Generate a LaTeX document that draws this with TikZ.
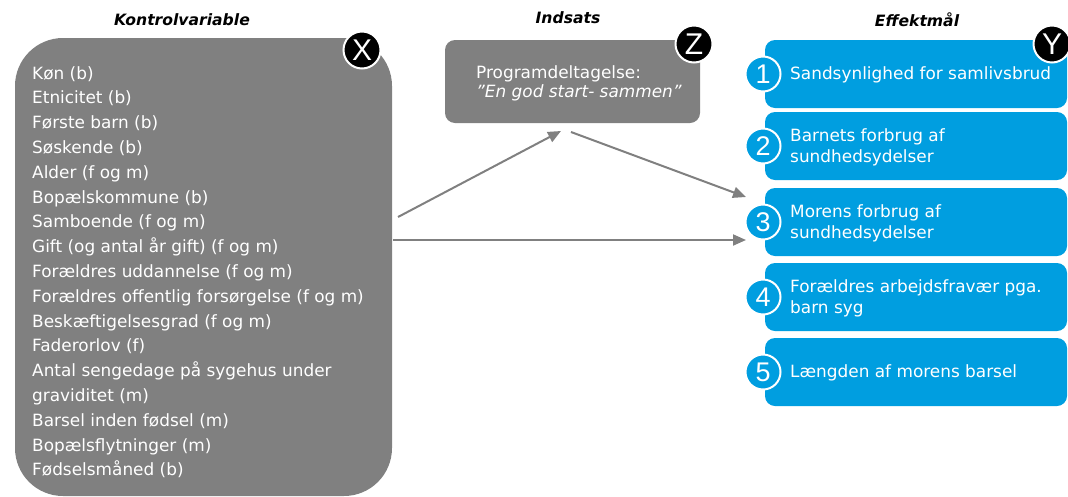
\documentclass[tikz,border=0pt]{standalone}
\usepackage{fontspec}
\setmainfont{DejaVu Sans}
\newfontfamily\markfont{Liberation Sans}
\usetikzlibrary{arrows.meta,calc}
\definecolor{boxgray}{RGB}{128,128,128}
\definecolor{outblue}{RGB}{0,158,224}
\begin{document}
\begin{tikzpicture}[x=1pt,y=-1pt,
  title/.style={font=\fontsize{15.6}{18}\selectfont\bfseries\itshape, text=black},
  graybox/.style={fill=boxgray, draw=none},
  bluebox/.style={fill=outblue, draw=none, rounded corners=10},
  listtext/.style={anchor=base west, text=white, inner sep=0pt, font=\fontsize{16.9}{20}\selectfont},
  outtext/.style={anchor=west, text=white, inner sep=0pt, align=left, font=\fontsize{16.9}{21}\selectfont},
  letterbadge/.style={circle, fill=black, draw=white, line width=2, minimum size=37, inner sep=0pt, text=white, font=\markfont\fontsize{30}{30}\selectfont},
  numbadge/.style={circle, fill=outblue, draw=white, line width=2, minimum size=35, inner sep=0pt, text=white, font=\markfont\fontsize{27}{27}\selectfont},
  flow/.style={draw=boxgray, line width=2, -{Triangle[length=13,width=11]}}
]
\useasboundingbox (0,0) rectangle (1068,496);

% column titles
\node[title] (t1) at (182,20) {Kontrolvariable};
\node[title] (t2) at (568,18) {Indsats};
\node[title] (t3) at (917,20) {Effektmål};

% control variables box
\path[graybox, rounded corners=48] (15,38) rectangle (392,496);
\foreach \txt [count=\i] in {
  {Køn (b)}, {Etnicitet (b)}, {Første barn (b)}, {Søskende (b)},
  {Alder (f og m)}, {Bopælskommune (b)}, {Samboende (f og m)},
  {Gift (og antal år gift) (f og m)}, {Forældres uddannelse (f og m)},
  {Forældres offentlig forsørgelse (f og m)}, {Beskæftigelsesgrad (f og m)},
  {Faderorlov (f)}, {Antal sengedage på sygehus under}, {graviditet (m)},
  {Barsel inden fødsel (m)}, {Bopælsflytninger (m)}, {Fødselsmåned (b)}}
  \node[listtext] (kv\i) at (32,{79+24.8*(\i-1)}) {\txt};
\node[letterbadge] (bx) at (362,50) {X};

% intervention box
\path[graybox, rounded corners=10] (445,40) rectangle (700,123);
\node[anchor=base west, text=white, inner sep=0pt, font=\fontsize{16.9}{20}\selectfont] (z1) at (476,78) {Programdeltagelse:};
\node[anchor=base west, text=white, inner sep=0pt, font=\fontsize{16.9}{20}\selectfont\itshape] (z2) at (476,97) {"En god start- sammen"};
\node[letterbadge] (bz) at (694,44) {Z};

% outcome boxes
\foreach \top/\txt [count=\i] in {
  40/{Sandsynlighed for samlivsbrud},
  112/{Barnets forbrug af\\sundhedsydelser},
  188/{Morens forbrug af\\sundhedsydelser},
  263/{Forældres arbejdsfravær pga.\\barn syg},
  338/{Længden af morens barsel}} {
  \path[bluebox] (765,\top) rectangle (1067,{\top+68});
  \node[outtext] (y\i) at (790,{\top+35}) {\txt};
  \node[numbadge] (n\i) at (763,{\top+34}) {\i};
}
\node[letterbadge] (by) at (1052,44) {Y};

% connectors
\coordinate (xa) at (398,217);
\coordinate (za) at (561,131);
\coordinate (zb) at (571,132);
\coordinate (ya) at (746,197);
\coordinate (xb) at (393,240);
\coordinate (yb) at (746,240);
\draw[flow] (xa) -- (za);
\draw[flow] (zb) -- (ya);
\draw[flow] (xb) -- (yb);
\end{tikzpicture}
\end{document}
